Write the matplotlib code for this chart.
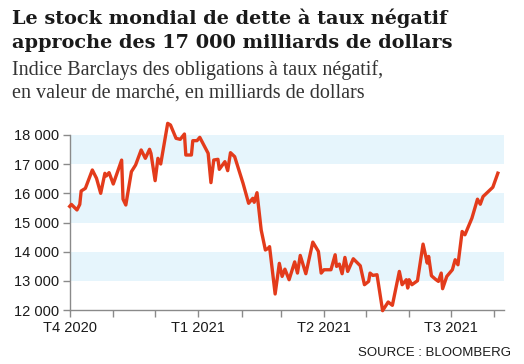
import matplotlib
matplotlib.use("Agg")
import matplotlib.pyplot as plt
import pandas as pd

dates = ["2020-09-30", "2020-10-02", "2020-10-06", "2020-10-08", "2020-10-09", "2020-10-12",
         "2020-10-17", "2020-10-20", "2020-10-23", "2020-10-26", "2020-10-27", "2020-10-29",
         "2020-11-01", "2020-11-07", "2020-11-08", "2020-11-10", "2020-11-14", "2020-11-17",
         "2020-11-21", "2020-11-24", "2020-11-27", "2020-11-28", "2020-12-01", "2020-12-03",
         "2020-12-05", "2020-12-10", "2020-12-12", "2020-12-16", "2020-12-19", "2020-12-22",
         "2020-12-23", "2020-12-27", "2020-12-28", "2020-12-31", "2021-01-02", "2021-01-08",
         "2021-01-10", "2021-01-12", "2021-01-15", "2021-01-16", "2021-01-20", "2021-01-22",
         "2021-01-24", "2021-01-27", "2021-02-02", "2021-02-06", "2021-02-09", "2021-02-10",
         "2021-02-12", "2021-02-15", "2021-02-18", "2021-02-20", "2021-02-21", "2021-02-25",
         "2021-02-28", "2021-03-02", "2021-03-04", "2021-03-07", "2021-03-11", "2021-03-13",
         "2021-03-15", "2021-03-19", "2021-03-24", "2021-03-28", "2021-03-30", "2021-04-01",
         "2021-04-06", "2021-04-09", "2021-04-10", "2021-04-12", "2021-04-14", "2021-04-16",
         "2021-04-18", "2021-04-22", "2021-04-27", "2021-04-30", "2021-05-03", "2021-05-04",
         "2021-05-06", "2021-05-09", "2021-05-13", "2021-05-17", "2021-05-20", "2021-05-25",
         "2021-05-27", "2021-05-30", "2021-05-31", "2021-06-01", "2021-06-03", "2021-06-07",
         "2021-06-11", "2021-06-14", "2021-06-15", "2021-06-17", "2021-06-20", "2021-06-22",
         "2021-06-24", "2021-06-25", "2021-06-28", "2021-07-02", "2021-07-04", "2021-07-06",
         "2021-07-09", "2021-07-11", "2021-07-16", "2021-07-20", "2021-07-22", "2021-07-24",
         "2021-07-31", "2021-08-04"]
values = [15510, 15620, 15430, 15620, 16080, 16170,
          16800, 16515, 16000, 16686, 16594, 16710,
          16320, 17140, 15800, 15600, 16743, 16971,
          17486, 17200, 17509, 17370, 16434, 17200,
          17006, 18400, 18343, 17886, 17851, 18034,
          17314, 17314, 17806, 17806, 17920, 17371,
          16366, 17143, 17166, 16823, 17086, 16777,
          17394, 17257, 16344, 15658, 15830, 15693,
          16022, 14743, 14057, 14114, 14171, 12549,
          13600, 13152, 13400, 13038, 13650, 13266,
          13871, 13244, 14327, 14008, 13266, 13380,
          13380, 13894, 13494, 13574, 13244, 13803,
          13323, 13757, 13517, 12867, 12981, 13266,
          13186, 13209, 11977, 12274, 12160, 13323,
          12867, 13038, 12753, 13038, 12867, 13004,
          14259, 13608, 13837, 13175, 13050, 12981,
          13266, 12730, 13152, 13380, 13723, 13551,
          14692, 14578, 15148, 15799, 15627, 15890,
          16209, 16745]

yticks = [12000, 13000, 14000, 15000, 16000, 17000, 18000]
ytick_labels = ["12 000", "13 000", "14 000", "15 000", "16 000", "17 000", "18 000"]
bands = [(13000, 14000), (15000, 16000), (17000, 18000)]
month_ticks = ["2020-10-01", "2020-11-01", "2020-12-01", "2021-01-01", "2021-02-01",
               "2021-03-01", "2021-04-01", "2021-05-01", "2021-06-01", "2021-07-01",
               "2021-08-01"]
quarter_ticks = ["2020-10-01", "2021-01-01", "2021-04-01", "2021-07-01"]
quarter_labels = ["T4 2020", "T1 2021", "T2 2021", "T3 2021"]

x = pd.to_datetime(dates)

fig = plt.figure(figsize=(5.24, 3.64), dpi=100)
ax = fig.add_axes([70/524, 54/364, 434/524, 175/364])

xmin = pd.Timestamp("2020-10-01")
xmax = pd.Timestamp("2021-08-08")
for lo, hi in bands:
    ax.axhspan(lo, hi, color="#E6F5FC", lw=0, zorder=0)

ax.plot(x, values, color="#E33B1B", lw=2.4, solid_joinstyle="round",
        solid_capstyle="butt", clip_on=False, zorder=3)

ax.set_xlim(xmin, xmax)
ax.set_ylim(12000, 18000)

for s in ["top", "right"]:
    ax.spines[s].set_visible(False)
for s in ["left", "bottom"]:
    ax.spines[s].set_color("#8a8a8a")
    ax.spines[s].set_linewidth(1.0)

ax.set_yticks(yticks)
ax.set_yticklabels(ytick_labels)
ax.set_xticks(pd.to_datetime(month_ticks))
ax.set_xticklabels([""] * len(month_ticks))
ax.xaxis.set_minor_locator(plt.NullLocator())
ax.tick_params(axis="both", color="#8a8a8a", width=1.0, length=5,
               labelsize=10.5, labelcolor="#1a1a1a", pad=3)
for lab in ax.get_yticklabels():
    lab.set_family("Liberation Sans")

for d, lab in zip(quarter_ticks, quarter_labels):
    ax.text(pd.Timestamp(d), -0.065, lab, transform=ax.get_xaxis_transform(),
            ha="center", va="top", fontsize=10.5, family="Liberation Sans",
            color="#1a1a1a")

fig.text(12/524, 1 - 18/364, "Le stock mondial de dette à taux négatif",
         family="DejaVu Serif", weight="bold", fontsize=13.9, color="#1a1a1a",
         va="center", ha="left")
fig.text(12/524, 1 - 43/364, "approche des 17 000 milliards de dollars",
         family="DejaVu Serif", weight="bold", fontsize=13.9, color="#1a1a1a",
         va="center", ha="left")
fig.text(12/524, 1 - 70/364, "Indice Barclays des obligations à taux négatif,",
         family="Liberation Serif", fontsize=14.5, color="#333333",
         va="center", ha="left")
fig.text(12/524, 1 - 93/364, "en valeur de marché, en milliards de dollars",
         family="Liberation Serif", fontsize=14.5, color="#333333",
         va="center", ha="left")
fig.text(511/524, 1 - 353/364, "SOURCE : BLOOMBERG", family="Liberation Sans",
         fontsize=9.5, color="#1a1a1a", va="center", ha="right")

fig.savefig("out.png", dpi=100)
